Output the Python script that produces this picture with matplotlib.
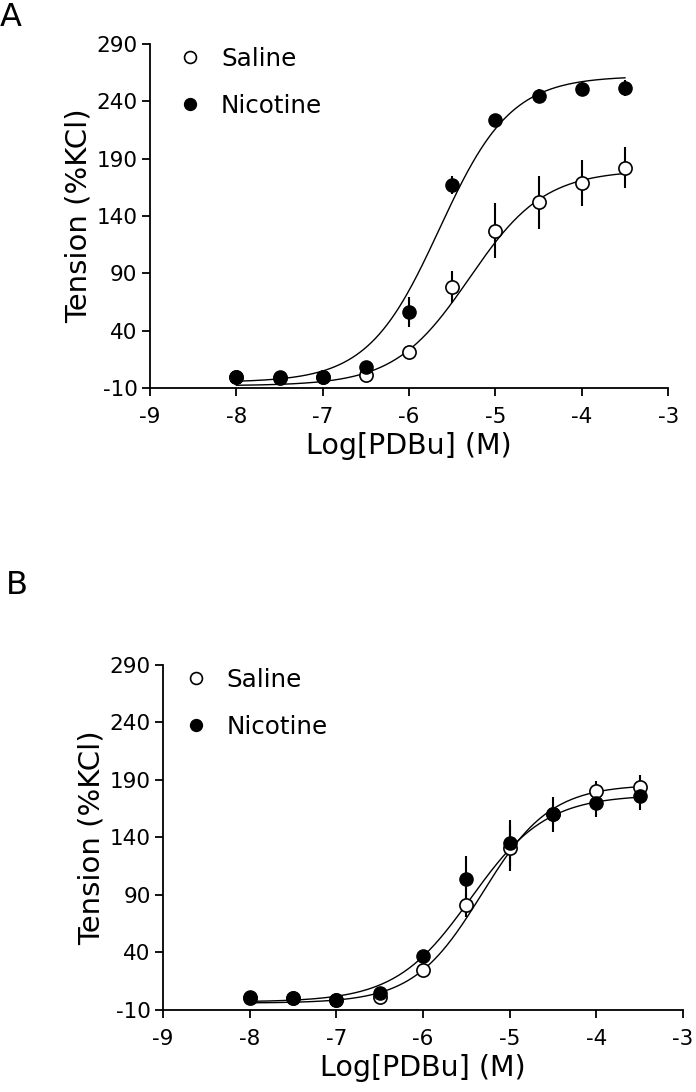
import numpy as np
import matplotlib
matplotlib.use("Agg")
import matplotlib.pyplot as plt

plt.rcParams['font.family'] = ['DejaVu Sans']
plt.rcParams['axes.unicode_minus'] = False

# concentrations (log M)
log_pdbu = [-8, -7.5, -7, -6.5, -6, -5.5, -5, -4.5, -4, -3.5]

# panel A
a_saline = [0, -1, 0, 1, 21, 78, 127, 152, 169, 182]
a_saline_err = [3, 3, 3, 6, 5, 14, 24, 23, 20, 18]
a_nicotine = [0, 0, 0, 8, 56, 167, 224, 245, 251, 252]
a_nicotine_err = [3, 3, 3, 4, 13, 8, 5, 6, 6, 7]

# panel B
b_saline = [0, 0, -1, 1, 25, 81, 131, 160, 180, 184]
b_saline_err = [3, 3, 3, 4, 6, 10, 20, 8, 9, 10]
b_nicotine = [1, 0, -1, 5, 37, 104, 135, 160, 170, 176]
b_nicotine_err = [3, 3, 3, 4, 4, 20, 20, 15, 12, 12]

# sigmoid fit parameters: bottom, top, logEC50, hill slope
a_saline_fit = [-8, 180, -5.3, 1.0]
a_nicotine_fit = [-5, 262, -5.65, 1.05]
b_saline_fit = [-4, 186, -5.32, 1.1]
b_nicotine_fit = [-3, 177, -5.45, 1.0]

x_ticks = [-9, -8, -7, -6, -5, -4, -3]
y_ticks = [-10, 40, 90, 140, 190, 240, 290]


def hill(x, p):
    bottom, top, ec50, slope = p
    return bottom + (top - bottom) / (1 + 10 ** ((ec50 - x) * slope))


def draw_panel(ax, sal, sal_err, nic, nic_err, sal_fit, nic_fit, leg_x):
    xs = np.linspace(log_pdbu[0], log_pdbu[-1], 300)
    ax.plot(xs, hill(xs, sal_fit), color='black', lw=1.0, zorder=2)
    ax.plot(xs, hill(xs, nic_fit), color='black', lw=1.0, zorder=2)
    ax.errorbar(log_pdbu, sal, yerr=sal_err, fmt='none', ecolor='black',
                elinewidth=1.5, capsize=0, zorder=3)
    ax.errorbar(log_pdbu, nic, yerr=nic_err, fmt='none', ecolor='black',
                elinewidth=1.5, capsize=0, zorder=3)
    ax.plot(log_pdbu, sal, 'o', ms=9.5, mfc='white', mec='black', mew=1.2,
            ls='none', zorder=4, label='Saline')
    ax.plot(log_pdbu, nic, 'o', ms=9.5, mfc='black', mec='black',
            ls='none', zorder=5, label='Nicotine')

    ax.set_xlim(-9, -3)
    ax.set_ylim(-10, 290)
    ax.set_xticks(x_ticks)
    ax.set_yticks(y_ticks)
    ax.spines['top'].set_visible(False)
    ax.spines['right'].set_visible(False)
    for s in ['left', 'bottom']:
        ax.spines[s].set_linewidth(1.3)
    ax.tick_params(direction='out', length=6, width=1.3, labelsize=15.5)
    ax.tick_params(axis='x', pad=8)
    ax.tick_params(axis='y', pad=3)
    ax.set_xlabel('Log[PDBu] (M)', fontsize=20.5, labelpad=3)
    ax.set_ylabel('Tension (%KCl)', fontsize=21, labelpad=3)
    ax.legend(loc='upper left', bbox_to_anchor=(leg_x, 1.021), frameon=False,
              fontsize=17.7, handlelength=1.0, handletextpad=0.75,
              labelspacing=0.95, borderaxespad=0, markerscale=0.9)


fig = plt.figure(figsize=(6.96, 10.92), dpi=100)
ax_a = fig.add_axes([0.2155, 0.6447, 0.7445, 0.315])
ax_b = fig.add_axes([0.2342, 0.0751, 0.7471, 0.316])

draw_panel(ax_a, a_saline, a_saline_err, a_nicotine, a_nicotine_err,
           a_saline_fit, a_nicotine_fit, 0.035)
draw_panel(ax_b, b_saline, b_saline_err, b_nicotine, b_nicotine_err,
           b_saline_fit, b_nicotine_fit, 0.02)

fig.text(0.0, 0.998, 'A', fontsize=23, va='top', ha='left')
fig.text(0.008, 0.478, 'B', fontsize=23, va='top', ha='left')

fig.savefig('out.png', dpi=100)
